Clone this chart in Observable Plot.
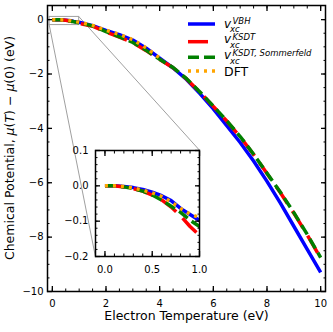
<!DOCTYPE html>
<html><head><meta charset="utf-8">
<script src="https://cdn.jsdelivr.net/npm/d3@7"></script>
<script src="https://cdn.jsdelivr.net/npm/@observablehq/plot@0.6"></script>
<style>
html,body{margin:0;padding:0;background:#fff;}
#wrap{position:relative;width:333px;height:332px;}
#wrap svg{position:absolute;}
</style></head><body><div id="wrap"></div>
<script>
// ---- data ----
const temperature = [0,0.1,0.2,0.3,0.4,0.5,0.6,0.7,0.8,0.9,1.0,1.5,2,2.5,3,3.5,4,4.5,5,5.5,6,6.5,7,7.5,8,8.5,9,9.5,10];
const muVBH = [0,0,-0.002,-0.005,-0.01,-0.018,-0.028,-0.042,-0.064,-0.081,-0.098,-0.22,-0.40,-0.55,-0.75,-1.05,-1.42,-1.78,-2.2,-2.72,-3.28,-3.9,-4.52,-5.2,-5.95,-6.75,-7.6,-8.45,-9.3];
const muKSDT = [0,0,-0.003,-0.008,-0.015,-0.026,-0.04,-0.06,-0.085,-0.115,-0.14,-0.24,-0.45,-0.64,-0.85,-1.14,-1.47,-1.77,-2.18,-2.67,-3.19,-3.73,-4.31,-4.96,-5.66,-6.37,-7.12,-7.92,-8.78];
const muSommerfeld = [0,0,-0.003,-0.008,-0.015,-0.026,-0.04,-0.058,-0.075,-0.097,-0.115,-0.23,-0.44,-0.63,-0.84,-1.13,-1.46,-1.76,-2.17,-2.66,-3.18,-3.72,-4.3,-4.95,-5.65,-6.35,-7.1,-7.9,-8.75];
const temperatureDFT = [0,0.1,0.2,0.3,0.4,0.5,0.6,0.7,0.8,0.9,1.0,1.5,2,2.5,3,3.5,4];
const muDFT = [0,0,-0.002,-0.006,-0.012,-0.02,-0.03,-0.045,-0.064,-0.08,-0.09,-0.21,-0.39,-0.54,-0.74,-1.04,-1.41];

const mainXMajor = [0,2,4,6,8,10];
const mainXMinor = [0,0.5,1,1.5,2,2.5,3,3.5,4,4.5,5,5.5,6,6.5,7,7.5,8,8.5,9,9.5,10];
const mainYMajor = [-10,-8,-6,-4,-2,0];
const mainYMinor = [-10,-9.5,-9,-8.5,-8,-7.5,-7,-6.5,-6,-5.5,-5,-4.5,-4,-3.5,-3,-2.5,-2,-1.5,-1,-0.5,0];
const insetXMajor = [0,0.5,1.0];
const insetXMinor = [-0.1,0,0.1,0.2,0.3,0.4,0.5,0.6,0.7,0.8,0.9,1.0];
const insetYMajor = [-0.2,-0.1,0,0.1];
const insetYMinor = [-0.2,-0.18,-0.16,-0.14,-0.12,-0.1,-0.08,-0.06,-0.04,-0.02,0,0.02,0.04,0.06,0.08,0.1];
const zoomX = [-0.1, 1.0];
const zoomY = [-0.2, 0.1];

const FONT = "DejaVu Sans";
const series = [
  {sup: "VBH", T: temperature, mu: muVBH, color: "#0000ff", dash: null, w: 3.5},
  {sup: "KSDT", T: temperature, mu: muKSDT, color: "#ff0000", dash: "20,9", w: 3.5},
  {sup: "KSDT, Sommerfeld", T: temperature, mu: muSommerfeld, color: "#008000", dash: "11,5", w: 3.5},
  {label: "DFT", T: temperatureDFT, mu: muDFT, color: "#ffa500", dash: "3,5", w: 3.5}
];

function lineMarks() {
  return series.map(s => Plot.line(s.T.map((t, i) => ({t, mu: s.mu[i]})), {
    x: "t", y: "mu", stroke: s.color, strokeWidth: s.w, strokeDasharray: s.dash,
    strokeLinecap: "butt", strokeLinejoin: "round", clip: true
  }));
}

// inward ticks on all four sides: outward axis ticks shifted back inside the frame
function tickMarks(xMaj, xMin, yMaj, yMin) {
  const out = [];
  const o = {tickFormat: () => "", label: null, stroke: "black"};
  for (const [data, len, sw] of [[xMin, 2.5, 1], [xMaj, 5, 1.3]]) {
    out.push(Plot.axisX(data, {...o, anchor: "bottom", tickSize: len, dy: -len, strokeWidth: sw}));
    out.push(Plot.axisX(data, {...o, anchor: "top", tickSize: len, dy: len, strokeWidth: sw}));
  }
  for (const [data, len, sw] of [[yMin, 2.5, 1], [yMaj, 5, 1.3]]) {
    out.push(Plot.axisY(data, {...o, anchor: "left", tickSize: len, dx: len, strokeWidth: sw}));
    out.push(Plot.axisY(data, {...o, anchor: "right", tickSize: len, dx: -len, strokeWidth: sw}));
  }
  return out;
}

// ---- main plot ----
const main = Plot.plot({
  width: 333, height: 332,
  marginLeft: 47, marginRight: 8, marginTop: 5, marginBottom: 41,
  style: {fontFamily: FONT, fontSize: "10px", background: "white", color: "black"},
  x: {domain: [-0.18, 10.18]},
  y: {domain: [-10, 0.52]},
  marks: [
    Plot.rect([{x1: zoomX[0], x2: zoomX[1], y1: zoomY[0], y2: zoomY[1]}],
      {x1: "x1", x2: "x2", y1: "y1", y2: "y2", fill: "none", stroke: "#a0a0a0", strokeWidth: 1}),
    ...lineMarks(),
    ...tickMarks(mainXMajor, mainXMinor, mainYMajor, mainYMinor),
    Plot.axisX(mainXMajor, {anchor: "bottom", tickSize: 0, tickPadding: 8, label: null, tickFormat: d3.format("d")}),
    Plot.axisY(mainYMajor, {anchor: "left", tickSize: 0, tickPadding: 4, label: null, tickFormat: d3.format("d")}),
    Plot.text(["Electron Temperature (eV)"], {frameAnchor: "bottom", lineAnchor: "bottom", dy: 28.5, fontSize: 12.5}),
    Plot.frame({stroke: "black", strokeWidth: 1.5})
  ]
});

// ---- inset ----
const insetLeft = 65.3, insetTop = 146;
const inset = Plot.plot({
  width: 138, height: 134,
  marginLeft: 30, marginRight: 4, marginTop: 4, marginBottom: 24,
  style: {fontFamily: FONT, fontSize: "10px", background: "transparent", color: "black", overflow: "visible"},
  x: {domain: zoomX},
  y: {domain: zoomY},
  marks: [
    Plot.frame({fill: "white"}),
    ...lineMarks(),
    ...tickMarks(insetXMajor, insetXMinor, insetYMajor, insetYMinor),
    Plot.axisX(insetXMajor, {anchor: "bottom", tickSize: 0, tickPadding: 9.5, label: null, tickFormat: d3.format(".1f")}),
    Plot.axisY(insetYMajor, {anchor: "left", tickSize: 0, tickPadding: 7, label: null, tickFormat: d3.format(".1f")}),
    Plot.frame({stroke: "black", strokeWidth: 1.5})
  ]
});
inset.style.left = insetLeft + "px";
inset.style.top = insetTop + "px";

const wrap = document.getElementById("wrap");
main.style.left = "0px"; main.style.top = "0px";
wrap.appendChild(main);
wrap.appendChild(inset);

// ---- connectors (zoom rect corners -> inset corners) ----
const svg = d3.select(main);
const mx = main.scale("x"), my = main.scale("y");
const ix = inset.scale("x"), iy = inset.scale("y");
const conn = svg.insert("g", ":first-child").attr("stroke", "#a0a0a0").attr("stroke-width", 1);
[[zoomX[0], zoomY[0]], [zoomX[1], zoomY[1]]].forEach(([cx, cy]) => {
  conn.append("line")
    .attr("x1", mx.apply(cx)).attr("y1", my.apply(cy))
    .attr("x2", insetLeft + ix.apply(cx)).attr("y2", insetTop + iy.apply(cy));
});

// ---- y label ----
const yl = svg.append("text")
  .attr("transform", "translate(13.5,148) rotate(-90)")
  .attr("text-anchor", "middle").attr("font-family", FONT).attr("font-size", 12.5).attr("fill", "black");
yl.append("tspan").text("Chemical Potential, ");
yl.append("tspan").attr("font-style", "italic").text("μ");
yl.append("tspan").text("(");
yl.append("tspan").attr("font-style", "italic").text("T");
yl.append("tspan").text(") − ");
yl.append("tspan").attr("font-style", "italic").text("μ");
yl.append("tspan").text("(0) (eV)");

// ---- legend ----
const legendRows = [
  {lineY: 24, base: 27.5, supBase: 23.8, subBase: 32},
  {lineY: 41.7, base: 43.3, supBase: 39.5, subBase: 47.5},
  {lineY: 57.3, base: 59.3, supBase: 55.8, subBase: 64},
  {lineY: 71, base: 76}
];
const lg = svg.append("g").attr("font-family", FONT).attr("fill", "black").attr("text-anchor", "start");
series.forEach((s, i) => {
  const r = legendRows[i];
  lg.append("line").attr("x1", 188).attr("x2", 215).attr("y1", r.lineY).attr("y2", r.lineY)
    .attr("stroke", s.color).attr("stroke-width", s.w).attr("stroke-dasharray", s.dash);
  if (s.sup) {
    lg.append("text").attr("x", 224).attr("y", r.base).attr("font-size", 12).attr("font-style", "italic").text("v");
    lg.append("text").attr("x", 232.5).attr("y", r.supBase).attr("font-size", 8.5).attr("font-style", "italic").text(s.sup);
    lg.append("text").attr("x", 230).attr("y", r.subBase).attr("font-size", 8.5).attr("font-style", "italic").text("xc");
  } else {
    lg.append("text").attr("x", 224).attr("y", r.base).attr("font-size", 12.5).text(s.label);
  }
});
</script></body></html>
